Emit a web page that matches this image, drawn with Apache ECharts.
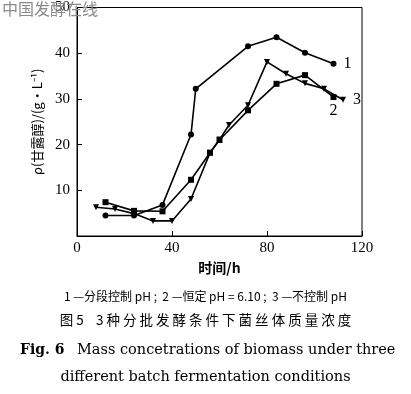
<!DOCTYPE html>
<html><head><meta charset="utf-8">
<script src="https://cdn.jsdelivr.net/npm/echarts@6/dist/echarts.min.js"></script>
<style>html,body{margin:0;padding:0;background:#fff}#c{width:411px;height:394px}</style>
</head><body><div id="c"></div>
<script>
// Series 1: staged pH control (circles)
const s1Time = [12, 24, 36, 48, 50, 72, 84, 96, 108];
const s1Value = [4.5, 4.5, 6.8, 22.2, 32.2, 41.5, 43.5, 40.1, 37.7];
// Series 2: constant pH 6.10 (squares)
const s2Time = [12, 24, 36, 48, 56, 60, 72, 84, 96, 108];
const s2Value = [7.4, 5.5, 5.4, 12.3, 18.2, 21.0, 27.5, 33.3, 35.2, 30.4];
// Series 3: no pH control (inverted triangles)
const s3Time = [8, 16, 24, 32, 40, 48, 56, 60, 64, 72, 80, 88, 96, 104, 112];
const s3Value = [6.3, 5.9, 4.9, 3.3, 3.3, 8.1, 18.2, 21.1, 24.3, 28.6, 38.1, 35.5, 33.4, 32.2, 29.8];
const xTicks = [0, 40, 80, 120];
const yTicks = [10, 20, 30, 40, 50];

const pairs = (xs, ys) => xs.map((x, i) => [x, ys[i]]);
const chart = echarts.init(document.getElementById('c'), null, {renderer: 'canvas'});
const tickFont = {fontFamily: 'Liberation Serif', fontSize: 15, color: '#000', fontWeight: 'normal'};
const lineStyle = {color: '#000', width: 1.6};
chart.setOption({
  animation: false,
  backgroundColor: '#fff',
  grid: {left: 77, right: 49, top: 3, bottom: 158, show: true, borderColor: '#000', borderWidth: 1},
  xAxis: {
    type: 'value', min: 0, max: 120, interval: 40,
    axisLine: {lineStyle: {color: '#000', width: 1}},
    axisTick: {inside: true, length: 5, lineStyle: {color: '#000'}},
    splitLine: {show: false},
    axisLabel: Object.assign({margin: 5, formatter: v => xTicks.includes(v) ? String(v) : ''}, tickFont),
    name: '时间/h', nameLocation: 'middle', nameGap: 25,
    nameTextStyle: {fontFamily: 'Noto Sans CJK SC', fontSize: 14, fontWeight: 'bold', color: '#000'}
  },
  yAxis: {
    type: 'value', min: 0, max: 50, interval: 10,
    axisLine: {lineStyle: {color: '#000', width: 1}},
    axisTick: {inside: true, length: 5, lineStyle: {color: '#000'}},
    splitLine: {show: false},
    axisLabel: Object.assign({margin: 7, formatter: v => yTicks.includes(v) ? String(v) : ''}, tickFont),
    name: 'ρ(甘露醇)/(g·L⁻¹)', nameLocation: 'middle', nameGap: 33, nameRotate: 90,
    nameTextStyle: {fontFamily: 'Noto Sans CJK SC', fontSize: 13, color: '#000'}
  },
  series: [
    {type: 'line', data: pairs(s1Time, s1Value), symbol: 'circle', symbolSize: 6,
     lineStyle: lineStyle, itemStyle: {color: '#000'},
     endLabel: {show: true, formatter: '1', fontFamily: 'Liberation Serif', fontSize: 16, color: '#000', offset: [2, 0]}},
    {type: 'line', data: pairs(s2Time, s2Value), symbol: 'rect', symbolSize: 6,
     lineStyle: lineStyle, itemStyle: {color: '#000'},
     endLabel: {show: true, formatter: '2', fontFamily: 'Liberation Serif', fontSize: 16, color: '#000', offset: [-12, 14]}},
    {type: 'line', data: pairs(s3Time, s3Value), symbol: 'triangle', symbolRotate: 180, symbolSize: 6,
     lineStyle: lineStyle, itemStyle: {color: '#000'},
     endLabel: {show: true, formatter: '3', fontFamily: 'Liberation Serif', fontSize: 16, color: '#000', offset: [2, 0]}}
  ],
  graphic: [
    {type: 'text', left: 2, top: 1, z: 100, style: {text: '中国发酵在线', font: '16px "Noto Sans CJK SC"', fill: '#8a8a8a'}},
    {type: 'text', left: 'center', top: 290, style: {text: '1 —分段控制 pH ;  2 —恒定 pH = 6.10 ;  3 —不控制 pH', font: '12px "Noto Sans CJK SC"', fill: '#000'}},
    {type: 'text', left: 'center', top: 313, style: {text: '图 5    3 种 分 批 发 酵 条 件 下 菌 丝 体 质 量 浓 度', font: '13.5px "Noto Sans CJK SC"', fill: '#000'}},
    {type: 'text', left: 20, top: 343, style: {text: 'Fig. 6', font: 'bold 14px "DejaVu Serif"', fill: '#000'}},
    {type: 'text', left: 77, top: 343, style: {text: 'Mass concetrations of biomass under three', font: '14.5px "DejaVu Serif"', fill: '#000'}},
    {type: 'text', left: 'center', top: 370, style: {text: 'different batch fermentation conditions', font: '14.5px "DejaVu Serif"', fill: '#000'}}
  ]
});
</script></body></html>
